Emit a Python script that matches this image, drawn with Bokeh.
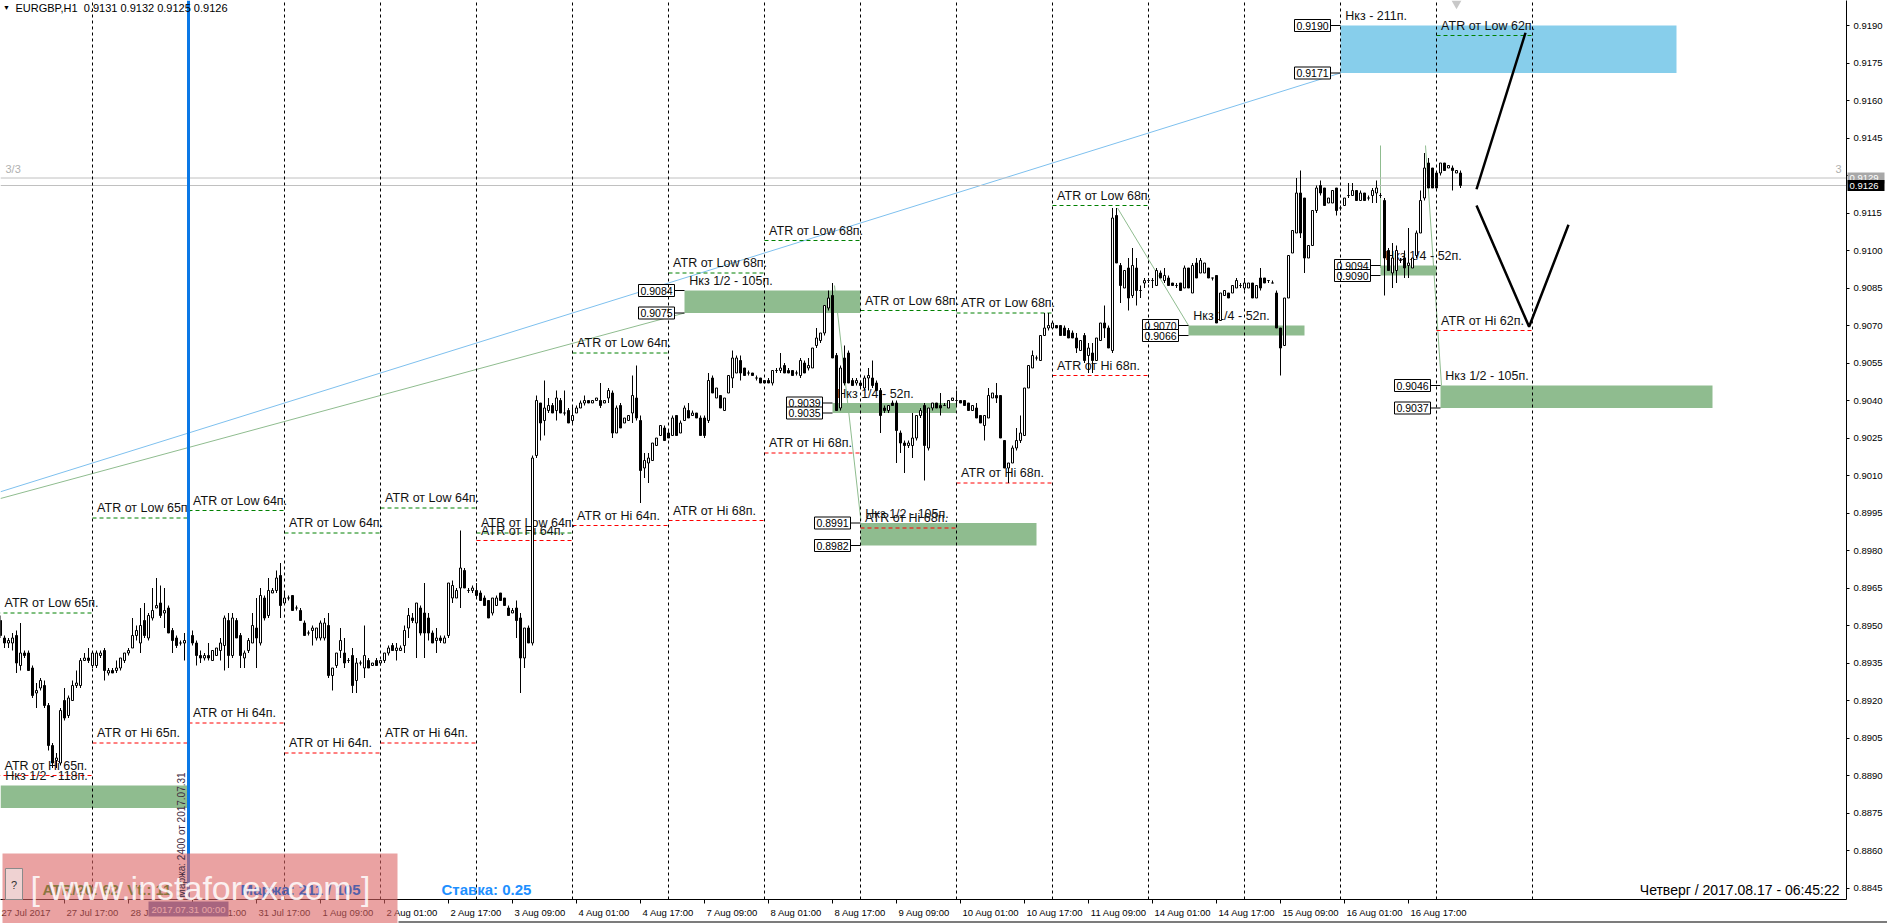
import math
from bokeh.plotting import figure
from bokeh.models import (Range1d, FixedTicker, CustomJSTickFormatter, PrintfTickFormatter)
from bokeh.core.properties import value
from bokeh.embed import file_html
from bokeh.resources import INLINE

# ---------------- data ----------------
SYMBOL = "EURGBP,H1"
LAST_OHLC = [0.9131, 0.9132, 0.9125, 0.9126]
ASK_PRICE = 0.9129
BID_PRICE = 0.9126

# Hourly bars, bar index 0 = 27 Jul 2017 00:00 (24 bars per trading day); bars 1..366 shown
bar_index = list(range(1, 367))
bar_open = [
    .8952, .8945, .8943, .8943, .8946, .8934, .8939, .8939, .8933, .8923, .8925, .8926, .8918, .8902, .8896, .8895, .8920, .8914, .8920, .8926, .8926, .8936, .8937,
    .8934, .8934, .8938, .8940, .8931, .8932, .8932, .8933, .8936, .8939, .8941, .8946, .8943, .8952, .8945, .8953, .8957, .8959, .8955, .8957, .8948, .8945, .8943, .8943,
    .8945, .8946, .8943, .8938, .8937, .8938, .8936, .8938, .8940, .8942, .8952, .8938, .8952, .8946, .8937, .8940, .8943, .8949, .8943, .8961, .8954, .8963, .8964, .8970,
    .8959, .8961, .8962, .8957, .8956, .8951, .8947, .8948, .8945, .8945, .8945, .8950, .8930, .8934, .8940, .8939, .8936, .8938, .8928, .8935, .8933, .8936, .8934, .8936,
    .8935, .8936, .8939, .8942, .8940, .8940, .8942, .8949, .8953, .8951, .8957, .8955, .8953, .8947, .8944, .8945, .8943, .8946, .8961, .8961, .8965, .8972, .8964, .8964,
    .8964, .8963, .8961, .8960, .8955, .8958, .8963, .8961, .8957, .8955, .8957, .8953, .8937, .8949, .8943, .9018, .9039, .9032, .9036, .9038, .9036, .9040, .9035, .9036,
    .9032, .9035, .9037, .9039, .9040, .9039, .9040, .9040, .9039, .9041, .9043, .9027, .9038, .9031, .9032, .9035, .9041, .9032, .9013, .9015, .9016, .9022, .9026, .9029,
    .9027, .9026, .9034, .9027, .9032, .9036, .9034, .9035, .9033, .9033, .9032, .9049, .9041, .9042, .9036, .9043, .9049, .9051, .9056, .9053, .9051, .9051, .9049, .9049,
    .9048, .9048, .9047, .9052, .9052, .9054, .9052, .9052, .9051, .9050, .9055, .9053, .9053, .9062, .9064, .9067, .9077, .9082, .9058, .9037, .9057, .9059, .9048, .9047,
    .9047, .9045, .9049, .9049, .9047, .9044, .9037, .9036, .9039, .9039, .9027, .9023, .9022, .9022, .9025, .9034, .9038, .9021, .9037, .9039, .9038, .9038, .9037, .9040,
    .9040, .9040, .9040, .9039, .9036, .9037, .9034, .9030, .9033, .9041, .9042, .9042, .9024, .9013, .9015, .9021, .9024, .9026, .9045, .9053, .9057, .9056, .9066, .9069,
    .9069, .9070, .9070, .9069, .9068, .9067, .9065, .9060, .9066, .9058, .9059, .9056, .9064, .9071, .9069, .9060, .9114, .9094, .9085, .9093, .9082, .9093, .9084, .9087,
    .9088, .9088, .9086, .9091, .9088, .9089, .9087, .9086, .9087, .9085, .9093, .9083, .9095, .9091, .9091, .9093, .9089, .9090, .9072, .9082, .9083, .9083, .9085, .9086,
    .9085, .9085, .9087, .9081, .9089, .9089, .9088, .9087, .9083, .9069, .9062, .9081, .9099, .9107, .9123, .9121, .9097, .9102, .9116, .9126, .9125, .9119, .9119, .9125,
    .9117, .9118, .9122, .9122, .9124, .9120, .9123, .9121, .9122, .9123, .9122, .9120, .9100, .9091, .9092, .9096, .9097, .9094, .9093, .9098, .9107, .9121, .9135, .9133,
    .9131, .9131, .9135, .9133, .9133, .9131, .9131,
]
bar_high = [
    .8954, .8946, .8945, .8947, .8948, .8951, .8940, .8940, .8934, .8927, .8929, .8928, .8919, .8903, .8899, .8917, .8925, .8922, .8928, .8932, .8937, .8939, .8941,
    .8939, .8940, .8940, .8941, .8933, .8933, .8936, .8937, .8939, .8941, .8953, .8950, .8957, .8959, .8955, .8965, .8969, .8966, .8965, .8958, .8949, .8946, .8944, .8947,
    .8950, .8948, .8944, .8940, .8939, .8943, .8940, .8941, .8945, .8954, .8955, .8955, .8953, .8947, .8940, .8945, .8955, .8961, .8965, .8962, .8969, .8965, .8972, .8975,
    .8963, .8962, .8962, .8958, .8957, .8952, .8948, .8950, .8949, .8952, .8953, .8955, .8933, .8939, .8949, .8945, .8937, .8941, .8937, .8936, .8950, .8937, .8935, .8937,
    .8936, .8939, .8942, .8943, .8943, .8942, .8950, .8957, .8955, .8959, .8958, .8967, .8955, .8948, .8949, .8946, .8946, .8967, .8968, .8965, .8988, .8973, .8965, .8966,
    .8967, .8964, .8962, .8960, .8961, .8962, .8963, .8961, .8958, .8957, .8960, .8955, .8949, .8950, .9018, .9042, .9039, .9048, .9041, .9039, .9044, .9041, .9044, .9037,
    .9038, .9038, .9040, .9042, .9040, .9040, .9041, .9047, .9040, .9045, .9044, .9038, .9039, .9033, .9034, .9050, .9054, .9034, .9019, .9019, .9023, .9025, .9030, .9030,
    .9028, .9034, .9034, .9032, .9038, .9039, .9036, .9035, .9034, .9034, .9051, .9050, .9045, .9042, .9041, .9050, .9060, .9058, .9058, .9053, .9052, .9051, .9050, .9049,
    .9048, .9049, .9052, .9053, .9059, .9055, .9053, .9052, .9052, .9057, .9056, .9057, .9061, .9069, .9067, .9078, .9084, .9087, .9059, .9054, .9062, .9060, .9049, .9049,
    .9048, .9050, .9053, .9056, .9048, .9045, .9038, .9038, .9040, .9040, .9028, .9024, .9024, .9035, .9034, .9037, .9039, .9037, .9039, .9039, .9043, .9039, .9040, .9041,
    .9044, .9040, .9040, .9039, .9038, .9039, .9034, .9034, .9045, .9043, .9047, .9042, .9024, .9015, .9022, .9029, .9034, .9045, .9054, .9060, .9058, .9066, .9075, .9075,
    .9071, .9070, .9070, .9070, .9069, .9068, .9067, .9064, .9067, .9063, .9063, .9065, .9071, .9078, .9070, .9117, .9117, .9095, .9092, .9097, .9101, .9097, .9086, .9089,
    .9089, .9089, .9093, .9092, .9093, .9090, .9087, .9087, .9087, .9094, .9093, .9095, .9097, .9097, .9095, .9093, .9089, .9090, .9083, .9084, .9083, .9086, .9089, .9087,
    .9089, .9087, .9087, .9086, .9093, .9089, .9088, .9088, .9084, .9069, .9081, .9098, .9108, .9129, .9132, .9121, .9102, .9116, .9126, .9128, .9125, .9121, .9124, .9125,
    .9118, .9121, .9127, .9127, .9124, .9124, .9123, .9122, .9125, .9128, .9123, .9121, .9101, .9103, .9102, .9097, .9100, .9109, .9097, .9108, .9124, .9139, .9137, .9133,
    .9131, .9135, .9135, .9134, .9134, .9132, .9132,
]
bar_low = [
    .8945, .8941, .8941, .8940, .8931, .8932, .8937, .8932, .8921, .8917, .8924, .8917, .8900, .8893, .8893, .8894, .8912, .8913, .8920, .8925, .8925, .8936, .8935,
    .8933, .8933, .8937, .8928, .8930, .8931, .8931, .8932, .8935, .8938, .8941, .8944, .8939, .8945, .8944, .8952, .8957, .8953, .8949, .8947, .8939, .8941, .8942, .8936,
    .8944, .8942, .8934, .8935, .8936, .8936, .8936, .8938, .8936, .8932, .8933, .8937, .8945, .8933, .8933, .8939, .8943, .8933, .8942, .8952, .8953, .8963, .8963, .8953,
    .8959, .8960, .8956, .8956, .8952, .8946, .8946, .8942, .8944, .8944, .8944, .8929, .8924, .8933, .8937, .8933, .8935, .8923, .8923, .8934, .8929, .8933, .8934, .8934,
    .8934, .8935, .8938, .8940, .8936, .8940, .8939, .8945, .8951, .8937, .8946, .8937, .8944, .8943, .8939, .8943, .8943, .8945, .8959, .8961, .8957, .8965, .8963, .8963,
    .8961, .8960, .8958, .8953, .8954, .8958, .8960, .8958, .8954, .8955, .8945, .8923, .8933, .8943, .8942, .9017, .9024, .9026, .9035, .9035, .9032, .9035, .9034, .9031,
    .9031, .9035, .9037, .9038, .9039, .9039, .9040, .9037, .9039, .9039, .9025, .9027, .9029, .9031, .9032, .9031, .9032, .8999, .9009, .9007, .9016, .9022, .9026, .9024,
    .9025, .9026, .9026, .9027, .9032, .9033, .9034, .9033, .9026, .9025, .9031, .9043, .9041, .9037, .9036, .9043, .9045, .9051, .9048, .9050, .9050, .9050, .9048, .9047,
    .9047, .9047, .9046, .9051, .9051, .9051, .9051, .9050, .9050, .9049, .9051, .9052, .9053, .9061, .9063, .9066, .9076, .9057, .9036, .9036, .9046, .9047, .9046, .9046,
    .9045, .9044, .9044, .9045, .9044, .9027, .9035, .9035, .9038, .9015, .9019, .9011, .9021, .9017, .9024, .9033, .9008, .9020, .9036, .9037, .9034, .9038, .9037, .9040,
    .9038, .9039, .9038, .9036, .9036, .9033, .9031, .9024, .9033, .9041, .9039, .9025, .9013, .9007, .9015, .9020, .9023, .9026, .9045, .9053, .9056, .9056, .9066, .9068,
    .9069, .9069, .9066, .9066, .9065, .9065, .9059, .9060, .9055, .9051, .9051, .9056, .9064, .9065, .9061, .9059, .9095, .9079, .9085, .9076, .9081, .9078, .9081, .9085,
    .9087, .9085, .9086, .9089, .9087, .9086, .9086, .9085, .9084, .9085, .9085, .9083, .9089, .9091, .9091, .9089, .9088, .9071, .9072, .9082, .9081, .9083, .9085, .9085,
    .9084, .9085, .9081, .9081, .9084, .9087, .9087, .9087, .9069, .9050, .9062, .9081, .9099, .9107, .9105, .9091, .9097, .9102, .9115, .9122, .9118, .9119, .9119, .9114,
    .9116, .9118, .9121, .9122, .9120, .9120, .9120, .9120, .9119, .9119, .9121, .9082, .9092, .9085, .9087, .9095, .9089, .9089, .9093, .9097, .9107, .9120, .9125, .9125,
    .9125, .9130, .9132, .9133, .9124, .9131, .9125,
]
bar_close = [
    .8946, .8943, .8944, .8945, .8935, .8939, .8938, .8932, .8922, .8924, .8928, .8918, .8902, .8895, .8897, .8916, .8913, .8921, .8926, .8927, .8936, .8937, .8936,
    .8939, .8939, .8939, .8932, .8932, .8931, .8933, .8937, .8939, .8940, .8946, .8948, .8950, .8946, .8954, .8956, .8958, .8954, .8956, .8947, .8944, .8942, .8943, .8944,
    .8947, .8943, .8938, .8937, .8938, .8937, .8940, .8941, .8943, .8953, .8938, .8953, .8945, .8938, .8939, .8944, .8950, .8945, .8962, .8953, .8964, .8964, .8969, .8958,
    .8961, .8961, .8956, .8957, .8952, .8946, .8947, .8949, .8949, .8951, .8951, .8930, .8933, .8939, .8944, .8935, .8936, .8926, .8935, .8935, .8938, .8933, .8935, .8934,
    .8936, .8939, .8941, .8940, .8941, .8941, .8948, .8954, .8952, .8959, .8947, .8947, .8947, .8943, .8945, .8944, .8945, .8967, .8966, .8964, .8973, .8965, .8964, .8965,
    .8962, .8960, .8958, .8953, .8961, .8961, .8960, .8958, .8954, .8956, .8952, .8937, .8949, .8943, .9017, .9040, .9031, .9037, .9038, .9035, .9041, .9035, .9035, .9031,
    .9034, .9037, .9039, .9040, .9039, .9040, .9041, .9038, .9040, .9044, .9027, .9037, .9029, .9033, .9034, .9042, .9033, .9012, .9016, .9017, .9023, .9025, .9030, .9024,
    .9025, .9033, .9026, .9031, .9037, .9033, .9035, .9033, .9026, .9026, .9048, .9043, .9045, .9037, .9041, .9050, .9057, .9057, .9051, .9050, .9051, .9050, .9049, .9047,
    .9047, .9047, .9052, .9052, .9053, .9051, .9051, .9050, .9051, .9056, .9051, .9054, .9061, .9065, .9067, .9078, .9081, .9057, .9036, .9053, .9047, .9047, .9046, .9048,
    .9046, .9049, .9050, .9046, .9044, .9034, .9036, .9038, .9038, .9028, .9023, .9022, .9023, .9025, .9034, .9036, .9022, .9037, .9039, .9037, .9037, .9038, .9040, .9041,
    .9040, .9039, .9038, .9036, .9038, .9033, .9031, .9034, .9042, .9043, .9041, .9025, .9013, .9015, .9021, .9024, .9027, .9045, .9054, .9058, .9057, .9066, .9069, .9070,
    .9071, .9069, .9066, .9066, .9065, .9065, .9061, .9064, .9056, .9061, .9056, .9065, .9071, .9069, .9061, .9113, .9095, .9086, .9092, .9081, .9094, .9084, .9084, .9088,
    .9088, .9088, .9092, .9089, .9090, .9086, .9086, .9086, .9084, .9093, .9085, .9094, .9089, .9096, .9095, .9089, .9089, .9071, .9083, .9084, .9081, .9086, .9088, .9086,
    .9087, .9087, .9081, .9086, .9085, .9087, .9088, .9087, .9069, .9061, .9081, .9098, .9108, .9123, .9107, .9097, .9102, .9116, .9125, .9123, .9118, .9121, .9124, .9116,
    .9117, .9121, .9122, .9124, .9120, .9123, .9120, .9121, .9124, .9125, .9122, .9097, .9092, .9097, .9100, .9096, .9093, .9095, .9097, .9107, .9120, .9133, .9125, .9125,
    .9125, .9135, .9132, .9134, .9132, .9132, .9126,
]

# time axis labels (every 16 bars) and daily separators
time_tick_bars = [0, 17, 33, 49, 65, 81, 97, 113, 129, 145, 161, 177, 193, 209, 225, 241, 257, 273, 289, 305, 321, 337, 353]
time_tick_labels = ["27 Jul 2017", "27 Jul 17:00", "28 Jul 09:00", "31 Jul 01:00", "31 Jul 17:00", "1 Aug 09:00",
                    "2 Aug 01:00", "2 Aug 17:00", "3 Aug 09:00", "4 Aug 01:00", "4 Aug 17:00", "7 Aug 09:00",
                    "8 Aug 01:00", "8 Aug 17:00", "9 Aug 09:00", "10 Aug 01:00", "10 Aug 17:00", "11 Aug 09:00",
                    "14 Aug 01:00", "14 Aug 17:00", "15 Aug 09:00", "16 Aug 01:00", "16 Aug 17:00"]
day_start_bars = [24, 72, 96, 120, 144, 168, 192, 216, 240, 264, 288, 312, 336, 360, 384]
marker_bar = 48
marker_text = "2017.07.31 00:00"

price_ticks = [0.8845, 0.8860, 0.8875, 0.8890, 0.8905, 0.8920, 0.8935, 0.8950, 0.8965, 0.8980, 0.8995, 0.9010,
               0.9025, 0.9040, 0.9055, 0.9070, 0.9085, 0.9100, 0.9115, 0.9130, 0.9145, 0.9160, 0.9175, 0.9190]

# daily ATR levels
atr_day_start = [0, 24, 48, 72, 96, 120, 144, 168, 192, 216, 240, 264, 360]
atr_pips = [65, 65, 64, 64, 64, 64, 64, 68, 68, 68, 68, 68, 62]
atr_low_level = [0.8955, 0.8993, 0.8996, 0.8987, 0.8997, 0.8987, 0.9059, 0.9091, 0.9104, 0.9076, 0.9075, 0.9118, 0.9186]
atr_hi_level = [0.8890, 0.8903, 0.8911, 0.8899, 0.8903, 0.8984, 0.8990, 0.8992, 0.9019, 0.8989, 0.9007, 0.9050, 0.9068]

# "Нкз" zones
zone_start = [1, 172, 209, 216, 298, 346, 361, 336]
zone_end = [48, 216, 240, 260, 327, 360, 429, 420]
zone_top = [0.8886, 0.9084, 0.9039, 0.8991, 0.9070, 0.9094, 0.9046, 0.9190]
zone_bottom = [0.8877, 0.9075, 0.9035, 0.8982, 0.9066, 0.9090, 0.9037, 0.9171]
zone_text = ["Нкз 1/2 - 118п.", "Нкз 1/2 - 105п.", "Нкз 1/4 - 52п.", "Нкз 1/2 - 105п.",
             "Нкз 1/4 - 52п.", "Нкз 1/4 - 52п.", "Нкз 1/2 - 105п.", "Нкз - 211п."]
zone_kind = ["g", "g", "g", "g", "g", "g", "g", "b"]

# trend lines
blue_line_bar = [1, 336]
blue_line_price = [0.90035, 0.9171]
green_line_bar = [1, 172]
green_line_price = [0.90008, 0.9075]
thin_x0 = [209.5, 280.25, 346, 357.25]
thin_y0 = [0.9086, 0.9117, 0.9142, 0.9142]
thin_x1 = [216.1, 298, 346, 361.25]
thin_y1 = [0.8992, 0.9070, 0.9093, 0.9046]
fc_up_bar = [370, 382.25]
fc_up_price = [0.91245, 0.91871]
fc_dn_bar = [370, 383.15, 393]
fc_dn_price = [0.9118, 0.90695, 0.91103]

info_atr = "ATR/20: 62\u00a0\u00a0Vt.: 11"
info_margin = "Маржа: 211 / 105"
info_rate = "Ставка: 0.25"
info_vertical = "Маржа: 2400 от 2017.07.31"
info_clock = "Четверг / 2017.08.17 - 06:45:22"
watermark = "[ www.instaforex.com ]"

# ---------------- layout helpers ----------------
W, H = 1887, 923
FRAME_R, FRAME_B = 1846, 899      # right / bottom edge of the price area (pixels)
PX_PER_PRICE = 25000.0


def bx(px):            # pixel -> bar index
    return (px + 4) / 4.0


def py(px):            # pixel -> price
    return 0.9190 - (px - 25) / PX_PER_PRICE


def ypx(price):        # price -> pixel
    return 25 + (0.9190 - price) * PX_PER_PRICE


def lift(price, pixels):   # a price 'pixels' above the given one
    return price + pixels / PX_PER_PRICE


FONT = "Liberation Sans"
TXT = "#111111"
OBJ_FS = "12.5px"

p = figure(width=W, height=H, x_range=Range1d(bx(0), bx(FRAME_R)), y_range=Range1d(py(FRAME_B), py(0)),
           output_backend="svg", toolbar_location=None, y_axis_location="right",
           min_border_left=0, min_border_top=0, min_border_right=W - FRAME_R, min_border_bottom=H - FRAME_B)
p.outline_line_color = None
p.grid.visible = False
p.background_fill_color = "white"
p.border_fill_color = "white"

# x axis: each label starts just right of its tick
cw = {"0": .556, "1": .556, "2": .556, "3": .556, "4": .556, "5": .556, "6": .556, "7": .556, "8": .556,
      "9": .556, " ": .278, ":": .278, "J": .5, "u": .556, "l": .222, "A": .667, "g": .556}
LBL_FS = 9.5
centers = []
for t, s in zip(time_tick_bars, time_tick_labels):
    w = sum(cw.get(ch, .55) for ch in s) * LBL_FS
    left_px = max(4 * t - 4 + 2, 1)
    centers.append(round(bx(left_px + w / 2), 4))
p.xaxis.ticker = FixedTicker(ticks=centers, minor_ticks=time_tick_bars)
p.xaxis.formatter = CustomJSTickFormatter(args=dict(c=centers, l=time_tick_labels), code="""
for (let i = 0; i < c.length; i++) { if (Math.abs(c[i] - tick) < 1e-3) return l[i]; }
return '';""")
p.xaxis.major_tick_line_color = None
p.xaxis.major_tick_out = 1
p.xaxis.major_tick_in = 0
p.xaxis.minor_tick_out = 4
p.xaxis.minor_tick_in = 0
p.xaxis.minor_tick_line_color = "black"
p.xaxis.major_label_standoff = 3
p.xaxis.major_label_text_font = FONT
p.xaxis.major_label_text_font_size = f"{LBL_FS}px"
p.xaxis.major_label_text_color = "black"
p.xaxis.axis_line_color = "black"

p.yaxis.ticker = FixedTicker(ticks=price_ticks)
p.yaxis.formatter = PrintfTickFormatter(format="%.4f")
p.yaxis.major_tick_out = 3
p.yaxis.major_tick_in = 0
p.yaxis.minor_tick_line_color = None
p.yaxis.major_label_standoff = 4
p.yaxis.major_label_text_font = FONT
p.yaxis.major_label_text_font_size = "9.5px"
p.yaxis.major_label_text_color = "black"
p.yaxis.axis_line_color = "black"

# ---- zones ----
for i in range(len(zone_start)):
    col = "#8fbc8f" if zone_kind[i] == "g" else "#87ceeb"
    p.quad(left=zone_start[i], right=zone_end[i], bottom=zone_bottom[i], top=zone_top[i],
           fill_color=col, line_color=None)

# ---- long diagonal lines ----
p.line(blue_line_bar, blue_line_price, line_color="#7ec0ee", line_width=1)
p.line(green_line_bar, green_line_price, line_color="#8fbc8f", line_width=1)
p.segment(x0=thin_x0, y0=thin_y0, x1=thin_x1, y1=thin_y1, line_color="#8fbc8f", line_width=1)

# ---- ATR levels ----
atr_end = [d + 24 for d in atr_day_start]
atr_tx = [max(d + 1.15, bx(4)) for d in atr_day_start]
p.segment(x0=atr_day_start, x1=atr_end, y0=atr_low_level, y1=atr_low_level,
          line_color="#008000", line_dash="4 3", line_width=1)
p.segment(x0=atr_day_start, x1=atr_end, y0=atr_hi_level, y1=atr_hi_level,
          line_color="#ff0000", line_dash="4 3", line_width=1)
p.text(x=atr_tx, y=[lift(v, 10) for v in atr_low_level], text=[f"ATR от Low {a}п." for a in atr_pips],
       text_font=value(FONT), text_font_size=OBJ_FS, text_color=TXT, text_baseline="middle")
p.text(x=atr_tx, y=[lift(v, 10) for v in atr_hi_level], text=[f"ATR от Hi {a}п." for a in atr_pips],
       text_font=value(FONT), text_font_size=OBJ_FS, text_color=TXT, text_baseline="middle")

# ---- zone texts and price tags ----
p.text(x=[s + 1.2 for s in zone_start], y=[lift(v, 9.5) for v in zone_top], text=zone_text,
       text_font=value(FONT), text_font_size=OBJ_FS, text_color=TXT, text_baseline="middle")
tag_x = []
tag_y = []
for s, t, b in zip(zone_start, zone_top, zone_bottom):
    if 4 * (s - 7) - 4 - 18 < 0:      # tag would lie left of the window
        continue
    tag_x += [s - 7, s - 7]
    tag_y += [t, b]
p.segment(x0=[x + 4.5 for x in tag_x], x1=[x + 7 for x in tag_x], y0=tag_y, y1=tag_y,
          line_color="black", line_width=1)
p.rect(x=tag_x, y=tag_y, width=36, height=12, width_units="screen", height_units="screen",
       fill_color="white", line_color="black", line_width=1)
p.text(x=tag_x, y=tag_y, text=[f"{v:.4f}" for v in tag_y], text_align="center", text_baseline="middle",
       text_font=value(FONT), text_font_size="10.5px", text_color="black")

# ---- bid / ask lines ----
p.segment(x0=[bx(0)] * 2, x1=[bx(FRAME_R)] * 2, y0=[ASK_PRICE, BID_PRICE], y1=[ASK_PRICE, BID_PRICE],
          line_color="#c0c0c0", line_width=1)
p.text(x=[bx(5)], y=[lift(ASK_PRICE, 9)], text=["3/3"], text_font=value(FONT), text_font_size="11px",
       text_color="#b0b0b0", text_baseline="middle")
p.text(x=[bx(1841)], y=[lift(ASK_PRICE, 9)], text=["3"], text_font=value(FONT), text_font_size="11px",
       text_color="#b0b0b0", text_baseline="middle", text_align="right")

# ---- daily separators ----
yl = py(FRAME_B)
yh = py(0)
p.segment(x0=day_start_bars, x1=day_start_bars, y0=[yl] * len(day_start_bars), y1=[yh] * len(day_start_bars),
          line_color="black", line_dash="3 3", line_width=1)

# ---- candles ----
hi = [max(h, o, c) for h, o, c in zip(bar_high, bar_open, bar_close)]
lo = [min(l, o, c) for l, o, c in zip(bar_low, bar_open, bar_close)]
p.segment(x0=bar_index, x1=bar_index, y0=lo, y1=hi, line_color="black", line_width=1)
body_top = [max(o, c) for o, c in zip(bar_open, bar_close)]
body_bot = [min(o, c) for o, c in zip(bar_open, bar_close)]
fills = ["white" if c >= o else "black" for o, c in zip(bar_open, bar_close)]
p.vbar(x=bar_index, width=0.5, top=body_top, bottom=body_bot, fill_color=fills, line_color="black",
       line_width=1)

# ---- blue vertical marker ----
p.segment(x0=[marker_bar], x1=[marker_bar], y0=[yl], y1=[yh], line_color="#0a78e6", line_width=3)

# ---- forecast zig-zag ----
p.line(fc_up_bar, fc_up_price, line_color="black", line_width=2.5)
p.line(fc_dn_bar, fc_dn_price, line_color="black", line_width=2.5)

# ================= overlay (pixel coordinates, whole window) =================
ov = figure(width=W, height=H, x_range=Range1d(0, W), y_range=Range1d(H, 0),
            output_backend="svg", toolbar_location=None, x_axis_location=None, y_axis_location=None,
            min_border_left=0, min_border_top=0, min_border_right=0, min_border_bottom=0)
ov.grid.visible = False
ov.outline_line_color = None
ov.background_fill_color = None
ov.border_fill_color = None
ov.styles = {"position": "absolute", "left": "0px", "top": "0px", "z-index": "2"}

# header
ov.text(x=[6], y=[7], text=["\u25bc"], text_font=value(FONT), text_font_size="7px", text_color="black",
        text_align="center", text_baseline="middle")
ov.text(x=[15], y=[7.5], text=[SYMBOL + "\u00a0\u00a0" + " ".join(f"{v:.4f}" for v in LAST_OHLC)],
        text_font=value(FONT), text_font_size="11px", text_color="black", text_baseline="middle")
ov.scatter(x=[1456], y=[3], marker="inverted_triangle", size=10, fill_color="#c8c8c8", line_color=None)

# current ask / bid boxes on the price axis
for pr, bg in ((ASK_PRICE, "#a8a8a8"), (BID_PRICE, "black")):
    yy = ypx(pr)
    ov.quad(left=FRAME_R + 1, right=FRAME_R + 38, top=yy - 5.5, bottom=yy + 5.5, fill_color=bg, line_color=None)
    ov.text(x=[FRAME_R + 3], y=[yy], text=[f"{pr:.4f}"], text_font=value(FONT), text_font_size="9.5px",
            text_color="white", text_baseline="middle")

# window bottom border
ov.segment(x0=[398], x1=[W], y0=[921.5], y1=[921.5], line_color="#505050", line_width=1.5)

# clock
ov.text(x=[1839], y=[889], text=[info_clock], text_font=value(FONT), text_font_size="14px",
        text_color="black", text_baseline="middle", text_align="right")

# rate
ov.text(x=[441], y=[889], text=[info_rate], text_font=value(FONT), text_font_size="15px",
        text_font_style="bold", text_color="#1e90ff", text_baseline="middle")

# marker time box on the time axis
mx = 4 * marker_bar - 4
ov.quad(left=mx - 40, right=mx + 40, top=901, bottom=916, fill_color="#5b68a8", line_color=None)
ov.text(x=[mx], y=[908.5], text=[marker_text], text_font=value(FONT), text_font_size="9.5px",
        text_color="white", text_align="center", text_baseline="middle")

# pink info panel
ov.quad(left=2, right=397, top=853, bottom=923, fill_color="#dc6464", fill_alpha=0.6, line_color=None)
ov.quad(left=5, right=22, top=868, bottom=899, fill_color="#efd2d2", line_color="#8a8a8a")
ov.text(x=[13.5], y=[884], text=["?"], text_font=value(FONT), text_font_size="11px", text_color="#333333",
        text_align="center", text_baseline="middle")
ov.text(x=[42], y=[889], text=[info_atr], text_font=value(FONT), text_font_size="15px",
        text_font_style="bold", text_color="#8a7540", text_baseline="middle")
ov.text(x=[240], y=[889], text=[info_margin], text_font=value(FONT), text_font_size="15px",
        text_font_style="bold", text_color="#5560a8", text_baseline="middle")
ov.text(x=[181], y=[897], text=[info_vertical], text_font=value(FONT), text_font_size="10px",
        text_color="#402a40", text_baseline="middle", angle=math.pi / 2)
ov.text(x=[200], y=[887], text=[watermark], text_font=value(FONT), text_font_size="34px",
        text_color="white", text_alpha=0.85, text_align="center", text_baseline="middle")

open("out.html", "w").write(file_html([p, ov], INLINE))
